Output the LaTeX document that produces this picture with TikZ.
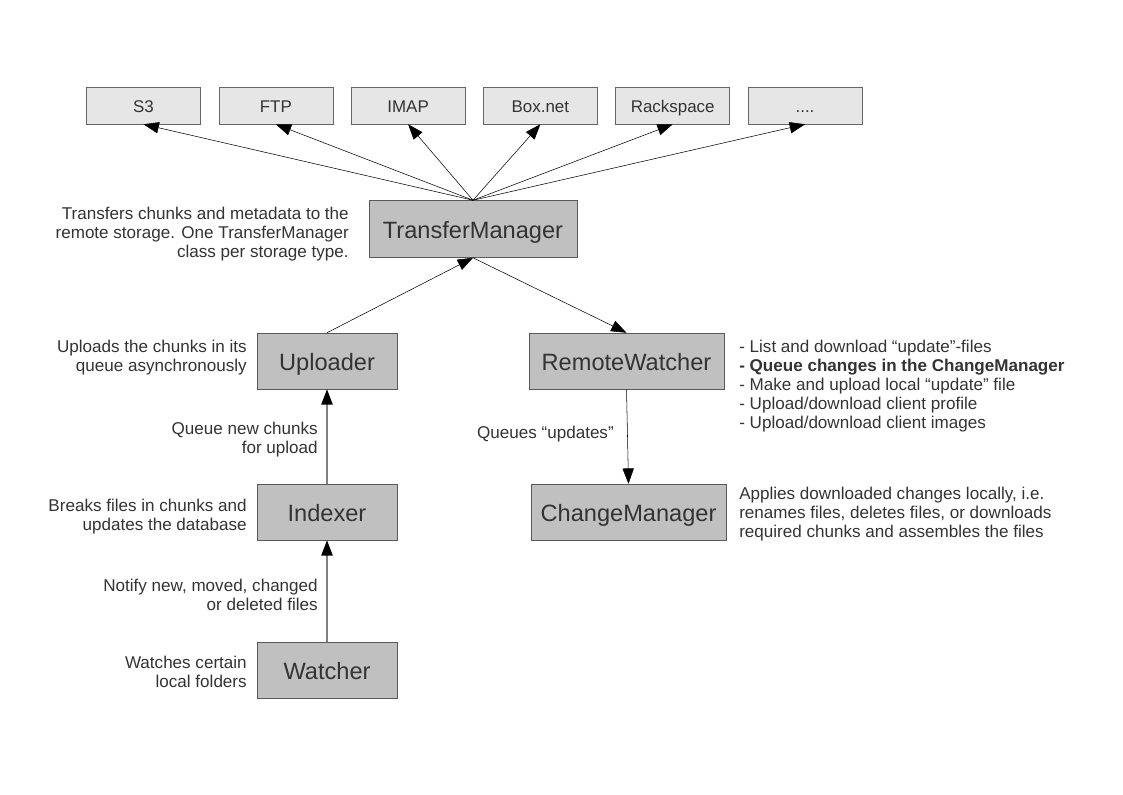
\documentclass[tikz,border=0pt]{standalone}
\usepackage{fontspec}
\setmainfont{Liberation Sans}
\usepackage{xcolor}
\usetikzlibrary{arrows.meta, positioning}
\definecolor{boxfill}{HTML}{C0C0C0}
\definecolor{storefill}{HTML}{E6E6E6}
\definecolor{txt}{HTML}{333333}
\newcommand{\moredots}{....}
\tikzstyle{store} = [rectangle, minimum width=85.5pt, minimum height=27.75pt, text height=12pt, text depth=1pt, draw=black!60, fill=storefill, text=txt, font=\fontsize{12.7}{14}\selectfont]
\tikzstyle{comp} = [rectangle, minimum height=42pt, text height=16pt, text depth=2.1pt, draw=black!65, fill=boxfill, text=txt, font=\fontsize{17.7}{20}\selectfont]
\tikzstyle{note} = [text=txt, font=\fontsize{12.8}{14.25}\selectfont, inner sep=0pt]
\tikzstyle{arrow} = [-{Triangle[length=11.5pt,width=8.5pt,color=black]}, black]
\tikzstyle{feed} = [arrow, draw=black!50, line width=1.1pt]

\begin{document}
\begin{tikzpicture}[x=0.75pt, y=-0.75pt]
        \useasboundingbox (0,0) rectangle (1123,794);
        % storage back ends
        \foreach \nm/\lbl [count=\i] in {s3/S3, ftp/FTP, imap/IMAP, boxnet/Box.net, rack/Rackspace, more/\moredots}
            \node[store] (\nm) at ({143.5+(\i-1)*132.3},105.5) {\lbl};
        % components
        \node[comp, minimum width=156pt, minimum height=42.75pt] (tm) at (473,229) {TransferManager};
        \node[comp, minimum width=105pt] (up) at (327,361) {Uploader};
        \node[comp, minimum width=105pt] (idx) at (327,512) {Indexer};
        \node[comp, minimum width=105pt] (wat) at (327,670.5) {Watcher};
        \node[comp, minimum width=146.25pt] (rw) at (626.5,361) {RemoteWatcher};
        \node[comp, minimum width=146.25pt] (cm) at (628.5,512) {ChangeManager};
        % notes
        \node[note, anchor=east, align=right] (tmnote) at (349,234) {Transfers chunks and metadata to the\\remote storage. One TransferManager\\class per storage type.};
        \node[note, anchor=east, align=right] (upnote) at (247,357.5) {Uploads the chunks in its\\queue asynchronously};
        \node[note, anchor=east, align=right] (qnote) at (318,440) {Queue new chunks\\for upload};
        \node[note, anchor=east, align=right] (idxnote) at (247,517) {Breaks files in chunks and\\updates the database};
        \node[note, anchor=east, align=right] (nnote) at (318,594.5) {Notify new, moved, changed\\or deleted files};
        \node[note, anchor=east, align=right] (watnote) at (247,671.5) {Watches certain\\local folders};
        \node[note, anchor=west, align=left] (rwnote) at (739,386) {- List and download “update”-files\\\textbf{- Queue changes in the ChangeManager}\\- Make and upload local “update” file\\- Upload/download client profile\\- Upload/download client images};
        \node[note, anchor=east] (updnote) at (614,434) {Queues “updates”};
        \node[note, anchor=west, align=left] (cmnote) at (739,514) {Applies downloaded changes locally, i.e.\\renames files, deletes files, or downloads\\required chunks and assembles the files};
        % connectors
        \foreach \nm in {s3, ftp, imap, boxnet, rack, more}
            \draw[arrow] (tm.north) -- (\nm.south);
        \draw[arrow] (up.north) -- (tm.south);
        \draw[arrow] (tm.south) -- (rw.north);
        \draw[arrow] (rw.south) -- (cm.north);
        \draw[feed] (idx.north) -- (up.south);
        \draw[feed] (wat.north) -- (idx.south);
    \end{tikzpicture}
\end{document}
